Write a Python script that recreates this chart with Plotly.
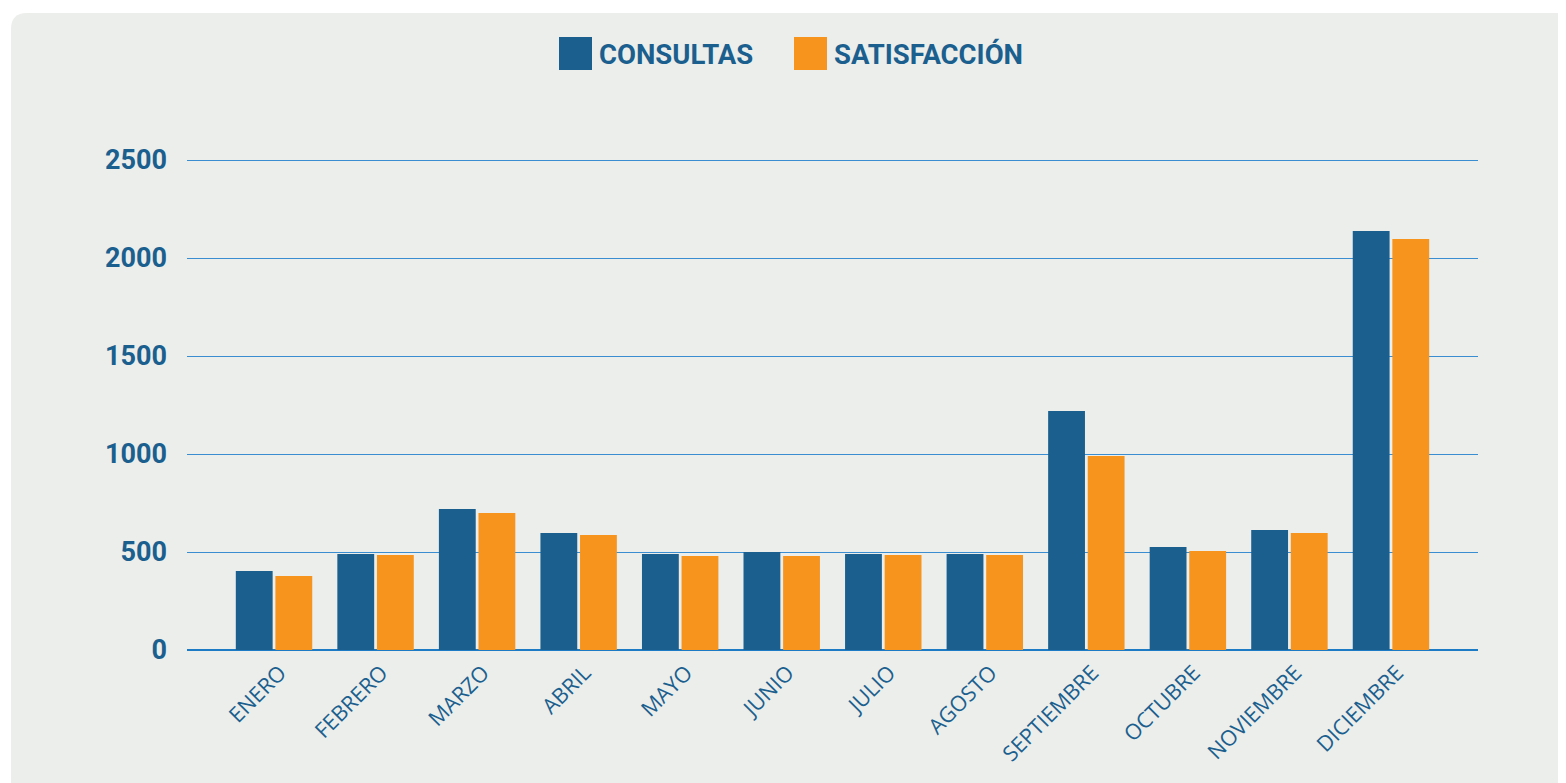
import plotly.graph_objects as go

meses = ["ENERO", "FEBRERO", "MARZO", "ABRIL", "MAYO", "JUNIO", "JULIO",
         "AGOSTO", "SEPTIEMBRE", "OCTUBRE", "NOVIEMBRE", "DICIEMBRE"]
consultas = [403, 490, 719, 597, 490, 500, 490, 490, 1219, 525, 612, 2138]
satisfaccion = [378, 485, 699, 587, 480, 480, 485, 485, 990, 505, 597, 2097]
y_ticks = [0, 500, 1000, 1500, 2000, 2500]

BLUE = "#1b5f8f"
ORANGE = "#f7941d"
GRID = "#3a8dd0"
ZERO = "#1c7bc4"
TEXT = "#1b5f8f"
BG = "#eceeeb"

OFF = 8  # default page body margin
W, H = 1566 - OFF, 783 - OFF
pw = 1291
ph = 495
YMAX = 2500 * ph / 490
L = 187 - OFF
T = (650 - OFF) - ph
R = W - L - pw
B = H - T - ph

def px2x(p):
    return (p - OFF - L) / pw

def py2y(p):
    return (T + ph - (p - OFF)) / ph

fig = go.Figure()
fig.add_trace(go.Bar(x=meses, y=consultas, name="CONSULTAS",
                     marker=dict(color=BLUE, line=dict(width=0)), showlegend=False))
fig.add_trace(go.Bar(x=meses, y=satisfaccion, name="SATISFACCIÓN",
                     marker=dict(color=ORANGE, line=dict(width=0)), showlegend=False))

# rounded background panel
x0, x1 = px2x(11), px2x(1566 + 20)
yt, yb = py2y(13), py2y(783 + 20)
rx, ry = 16 / pw, 16 / ph
path = (f"M {x0},{yb} L {x0},{yt - ry} Q {x0},{yt} {x0 + rx},{yt} "
        f"L {x1},{yt} L {x1},{yb} Z")
shapes = [dict(type="path", xref="paper", yref="paper", path=path,
               fillcolor=BG, line=dict(width=0), layer="below")]

# custom legend
legend_items = [("CONSULTAS", BLUE, 559), ("SATISFACCIÓN", ORANGE, 794)]
annotations = []
for label, col, lx in legend_items:
    shapes.append(dict(type="rect", xref="paper", yref="paper",
                       x0=px2x(lx), x1=px2x(lx + 33), y0=py2y(70), y1=py2y(37),
                       fillcolor=col, line=dict(width=0), layer="above"))
    annotations.append(dict(text=label, xref="paper", yref="paper",
                            x=px2x(lx + 38), y=py2y(54), xanchor="left", yanchor="middle",
                            showarrow=False,
                            font=dict(family="Roboto", size=27.5, color=TEXT, weight="bold")))

fig.update_layout(
    width=W, height=H,
    margin=dict(l=L, r=R, t=T, b=B, pad=0),
    paper_bgcolor="white",
    plot_bgcolor="rgba(0,0,0,0)",
    barmode="group",
    bargap=0.22,
    bargroupgap=0.07,
    shapes=shapes,
    annotations=annotations,
    showlegend=False,
)
fig.update_xaxes(
    range=[-0.857, 11.857],
    tickangle=-45,
    tickfont=dict(family="Open Sans", size=21.5, color=TEXT),
    showgrid=False, zeroline=False, showline=False, ticks="",
    ticklabelstandoff=5, ticklabelshift=6,
)
fig.update_yaxes(
    range=[0, YMAX],
    tickvals=y_ticks,
    tickfont=dict(family="Roboto", size=27, color=TEXT, weight="bold"),
    showgrid=True, gridcolor=GRID, gridwidth=1,
    zeroline=True, zerolinecolor=ZERO, zerolinewidth=2,
    showline=False, ticks="", ticklabelstandoff=19,
)

fig.write_html("out.html")
